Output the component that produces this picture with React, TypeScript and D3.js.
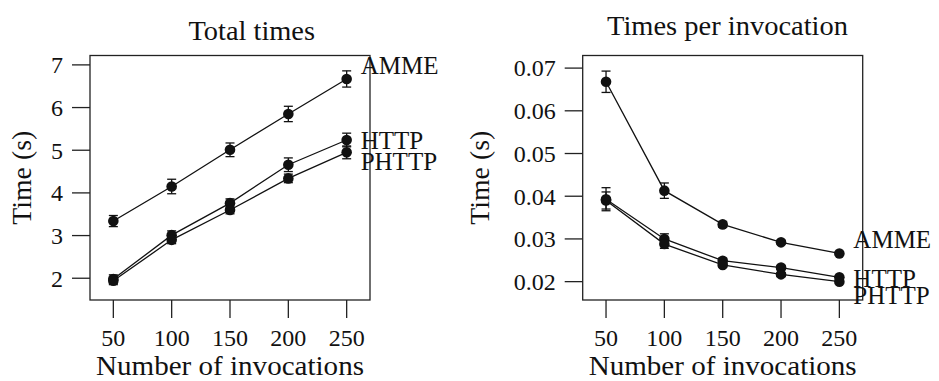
import React from "react";
import * as d3 from "d3";

const invocations = [50, 100, 150, 200, 250];
const seriesNames = ["AMME", "HTTP", "PHTTP"];

// Total times (s)
const totalAMME = [3.34, 4.15, 5.01, 5.85, 6.67];
const totalAMMEErr = [0.13, 0.17, 0.16, 0.18, 0.19];
const totalHTTP = [1.98, 3.01, 3.76, 4.66, 5.24];
const totalHTTPErr = [0.1, 0.1, 0.1, 0.16, 0.16];
const totalPHTTP = [1.94, 2.9, 3.6, 4.34, 4.95];
const totalPHTTPErr = [0.09, 0.09, 0.09, 0.1, 0.15];
const totalLabelY = [7.0, 5.24, 4.73];
const totalTicks = [2, 3, 4, 5, 6, 7];

// Times per invocation (s)
const perAMME = [0.0668, 0.0413, 0.0334, 0.0292, 0.0266];
const perAMMEErr = [0.0025, 0.0018, 0.0007, 0.0005, 0.0004];
const perHTTP = [0.0393, 0.03, 0.0249, 0.0233, 0.021];
const perHTTPErr = [0.0027, 0.0012, 0.0006, 0.0005, 0.0004];
const perPHTTP = [0.039, 0.0288, 0.0239, 0.0217, 0.02];
const perPHTTPErr = [0.002, 0.001, 0.0005, 0.0004, 0.0004];
const perLabelY = [0.0299, 0.0209, 0.0169];
const perTicks = [0.02, 0.03, 0.04, 0.05, 0.06, 0.07];

const xTicks = [50, 100, 150, 200, 250];

const FONT = "Liberation Serif, DejaVu Serif, Times, serif";
const INK = "#111";

type PanelProps = {
  left: number;
  right: number;
  top: number;
  bottom: number;
  yDomain: [number, number];
  yTicks: number[];
  yFormat: (v: number) => string;
  series: number[][];
  errors: number[][];
  labelY: number[];
  title: string;
  titleX: number;
  titleY: number;
  titleLen: number;
  yLabelX: number;
};

function Panel(p: PanelProps) {
  const x = d3.scaleLinear().domain([30, 270]).range([p.left, p.right]);
  const y = d3.scaleLinear().domain(p.yDomain).range([p.bottom, p.top]);
  const line = d3
    .line<number>()
    .x((_, i) => x(invocations[i]))
    .y((d) => y(d));
  const tickLen = 18;
  const midY = (p.top + p.bottom) / 2;
  return (
    <g style={{ fontFamily: FONT }}>
      <text
        x={p.titleX}
        y={p.titleY}
        fontSize={27.5}
        fill={INK}
        textLength={p.titleLen}
        lengthAdjust="spacingAndGlyphs"
      >
        {p.title}
      </text>
      <rect
        x={p.left}
        y={p.top}
        width={p.right - p.left}
        height={p.bottom - p.top}
        fill="none"
        stroke="#222"
        strokeWidth={1.3}
      />
      {p.yTicks.map((t) => (
        <g key={"y" + t}>
          <line
            x1={p.left - tickLen}
            x2={p.left}
            y1={y(t)}
            y2={y(t)}
            stroke="#222"
            strokeWidth={1.3}
          />
          <text
            x={p.left - tickLen - 9}
            y={y(t)}
            dy="0.35em"
            textAnchor="end"
            fontSize={24}
            fill={INK}
          >
            {p.yFormat(t)}
          </text>
        </g>
      ))}
      {xTicks.map((t) => (
        <g key={"x" + t}>
          <line
            x1={x(t)}
            x2={x(t)}
            y1={p.bottom}
            y2={p.bottom + tickLen}
            stroke="#222"
            strokeWidth={1.3}
          />
          <text
            x={x(t)}
            y={p.bottom + 46}
            textAnchor="middle"
            fontSize={24}
            fill={INK}
          >
            {t}
          </text>
        </g>
      ))}
      <text
        x={(p.left + p.right) / 2}
        y={p.bottom + 75}
        textAnchor="middle"
        fontSize={27}
        fill={INK}
        textLength={268}
        lengthAdjust="spacingAndGlyphs"
      >
        Number of invocations
      </text>
      <text
        transform={`translate(${p.yLabelX},${midY}) rotate(-90)`}
        textAnchor="middle"
        fontSize={27}
        fill={INK}
        textLength={94}
        lengthAdjust="spacingAndGlyphs"
      >
        Time (s)
      </text>
      {p.series.map((s, si) => (
        <g key={"s" + si}>
          <path d={line(s) || ""} fill="none" stroke={INK} strokeWidth={1.3} />
          {s.map((v, i) => {
            const cx = x(invocations[i]);
            const e = p.errors[si][i];
            return (
              <g key={i}>
                <line x1={cx} x2={cx} y1={y(v - e)} y2={y(v + e)} stroke={INK} strokeWidth={1.3} />
                <line x1={cx - 4.5} x2={cx + 4.5} y1={y(v - e)} y2={y(v - e)} stroke={INK} strokeWidth={1.3} />
                <line x1={cx - 4.5} x2={cx + 4.5} y1={y(v + e)} y2={y(v + e)} stroke={INK} strokeWidth={1.3} />
                <circle cx={cx} cy={y(v)} r={5.3} fill={INK} />
              </g>
            );
          })}
          <text
            x={x(invocations[invocations.length - 1]) + 14}
            y={y(p.labelY[si])}
            dy="0.35em"
            fontSize={25}
            fill={INK}
          >
            {seriesNames[si]}
          </text>
        </g>
      ))}
    </g>
  );
}

export default function App() {
  return (
    <svg
      width={939}
      height={381}
      style={{ position: "absolute", left: 0, top: 0, background: "#fff" }}
    >
      <rect width={939} height={381} fill="#fff" />
      <Panel
        left={90}
        right={370}
        top={55.5}
        bottom={300}
        yDomain={[1.49, 7.22]}
        yTicks={totalTicks}
        yFormat={(v) => String(v)}
        series={[totalAMME, totalHTTP, totalPHTTP]}
        errors={[totalAMMEErr, totalHTTPErr, totalPHTTPErr]}
        labelY={totalLabelY}
        title="Total times"
        titleX={188.5}
        titleY={40}
        titleLen={126.5}
        yLabelX={31}
      />
      <Panel
        left={582.7}
        right={862.7}
        top={55.5}
        bottom={300}
        yDomain={[0.0157, 0.07295]}
        yTicks={perTicks}
        yFormat={(v) => v.toFixed(2)}
        series={[perAMME, perHTTP, perPHTTP]}
        errors={[perAMMEErr, perHTTPErr, perPHTTPErr]}
        labelY={perLabelY}
        title="Times per invocation"
        titleX={607}
        titleY={35}
        titleLen={241}
        yLabelX={489}
      />
    </svg>
  );
}
